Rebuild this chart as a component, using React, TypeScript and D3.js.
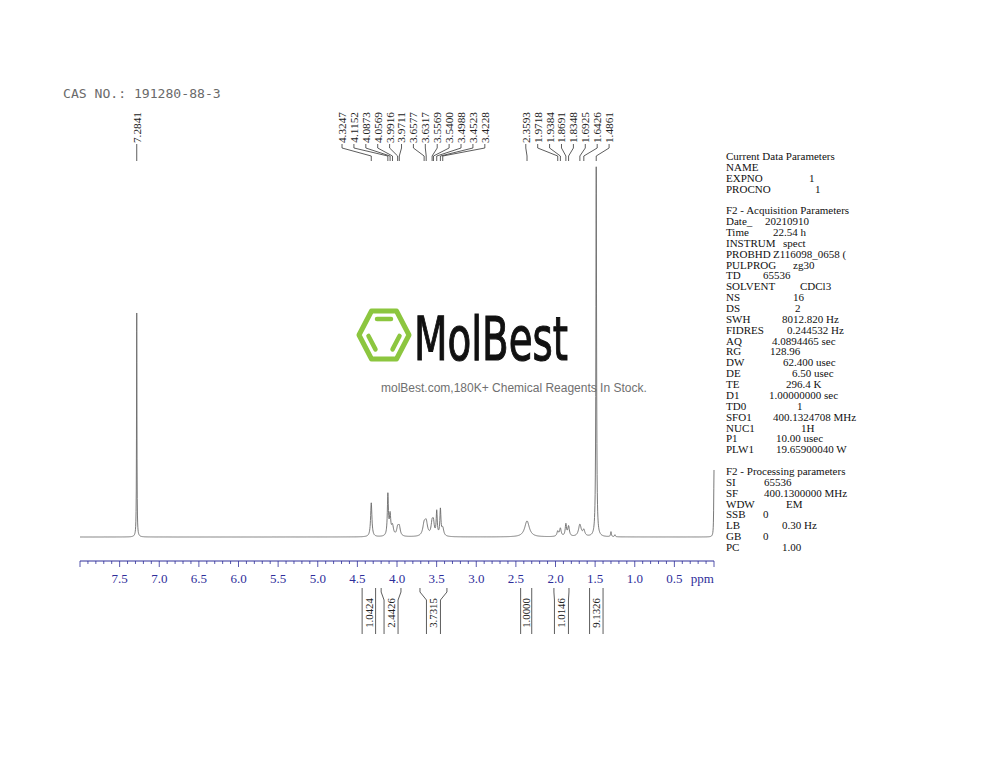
import React from "react";
import * as d3 from "d3";

// ---------------- data ----------------
const casText = "CAS NO.: 191280-88-3";

const peakLabels = [
  7.2841, 4.3247, 4.1152, 4.0873, 4.0569, 3.9916, 3.9711, 3.6577, 3.6317, 3.5569,
  3.54, 3.4988, 3.4523, 3.4228, 2.3593, 1.9718, 1.9384, 1.8691, 1.8348, 1.6925,
  1.6426, 1.4861,
];

// spectrum lines (shift ppm, height in px-units above baseline, half width ppm)
const peakShifts = [
  7.2841, 4.3247, 4.1152, 4.0873, 4.0569, 3.9916, 3.9711, 3.6577, 3.6317, 3.5569,
  3.54, 3.4988, 3.4523, 3.4228, 2.3593, 1.9718, 1.9384, 1.8691, 1.8348, 1.6925,
  1.6426, 1.4861, 1.3, 1.25, 0.0,
];
const peakHeights = [
  224, 34, 41, 20, 10, 8, 9, 11, 13, 13,
  11, 24, 26, 8, 16, 5, 8, 12, 10, 12,
  6, 370, 5, 2, 67,
];
const peakWidths = [
  0.003, 0.01, 0.008, 0.01, 0.015, 0.015, 0.015, 0.02, 0.02, 0.015,
  0.012, 0.008, 0.008, 0.015, 0.035, 0.012, 0.012, 0.01, 0.012, 0.02,
  0.015, 0.005, 0.006, 0.006, 0.004,
];

const axisLabels = [7.5, 7.0, 6.5, 6.0, 5.5, 5.0, 4.5, 4.0, 3.5, 3.0, 2.5, 2.0, 1.5, 1.0, 0.5];

const integralValues = ["1.0424", "2.4426", "3.7315", "1.0000", "1.0146", "9.1326"];
const integralStarts = [4.44, 4.2, 3.71, 2.44, 2.02, 1.57];
const integralEnds = [4.27, 3.95, 3.37, 2.3, 1.83, 1.4];

const paramNames = [
  "Current Data Parameters", "NAME", "EXPNO", "PROCNO", "",
  "F2 - Acquisition Parameters", "Date_", "Time", "INSTRUM", "PROBHD", "PULPROG", "TD",
  "SOLVENT", "NS", "DS", "SWH", "FIDRES", "AQ", "RG", "DW", "DE", "TE", "D1", "TD0",
  "SFO1", "NUC1", "P1", "PLW1", "",
  "F2 - Processing parameters", "SI", "SF", "WDW", "SSB", "LB", "GB", "PC",
];
const paramValues = [
  "", "", "1", "1", "",
  "", "20210910", "22.54 h", "spect", "Z116098_0658 (", "zg30", "65536",
  "CDCl3", "16", "2", "8012.820 Hz", "0.244532 Hz", "4.0894465 sec", "128.96", "62.400 usec", "6.50 usec", "296.4 K", "1.00000000 sec", "1",
  "400.1324708 MHz", "1H", "10.00 usec", "19.65900040 W", "",
  "", "65536", "400.1300000 MHz", "EM", "0", "0.30 Hz", "0", "1.00",
];
// layout: x of each value column entry
const paramValueX = [
  0, 0, 809, 815, 0,
  0, 765, 773, 783, 773, 793, 763,
  800, 793, 795, 782, 787, 772, 770, 783, 792, 786, 769, 797,
  773, 801, 776, 776, 0,
  0, 764, 764, 786, 763, 782, 763, 782,
];

const logoWord = "MolBest";
const tagline = "molBest.com,180K+ Chemical Reagents In Stock.";

// ---------------- component ----------------
export default function App() {
  const W = 1000;
  const H = 773;
  const x = d3.scaleLinear().domain([8.0, 0.0]).range([80, 714]);
  const y = d3.scaleLinear().domain([0, 100]).range([537, 437]);

  // spectrum sampling
  const grid: number[] = d3.range(0, 8.0001, 0.0025);
  const samples = Array.from(new Set(grid.concat(peakShifts.filter((p) => p >= 0 && p <= 8))))
    .sort((a, b) => b - a);
  const intensity = (p: number) => {
    let s = 0;
    for (let i = 0; i < peakShifts.length; i++) {
      const d = (p - peakShifts[i]) / peakWidths[i];
      s += peakHeights[i] / (1 + d * d);
    }
    return s;
  };
  const line = d3
    .line<number>()
    .x((p) => x(p))
    .y((p) => y(intensity(p)));
  const specPath = line(samples) || "";

  // label placement
  const spacing = 11.9;
  type G = { idx: number[]; center: number };
  const pxs = peakLabels.map((p) => x(p));
  let groups: G[] = pxs.map((px, i) => ({ idx: [i], center: px }));
  let merged = true;
  while (merged) {
    merged = false;
    for (let i = 0; i < groups.length - 1; i++) {
      const a = groups[i];
      const b = groups[i + 1];
      const aEnd = a.center + ((a.idx.length - 1) / 2) * spacing;
      const bStart = b.center - ((b.idx.length - 1) / 2) * spacing;
      if (bStart - aEnd < spacing) {
        const idx = a.idx.concat(b.idx);
        const center = d3.mean(idx, (k) => pxs[k]) as number;
        groups.splice(i, 2, { idx, center });
        merged = true;
        break;
      }
    }
  }
  const labelX: number[] = new Array(peakLabels.length);
  groups.forEach((g) => {
    g.idx.forEach((k, j) => {
      labelX[k] = g.center + (j - (g.idx.length - 1) / 2) * spacing;
    });
  });

  const labelTop = 112;
  const lead1 = 144;
  const lead2 = 148;
  const lead3 = 156;
  const lead4 = 161;

  // ticks
  const minorTicks = d3.range(0, 81).map((i) => 8 - i * 0.1);
  const axisColor = "#2e2e9a";
  const axisY = 561;

  // hexagon
  const hx = 384;
  const hy = 335;
  const hrx = 25;
  const hry = 24;
  const hexPts = d3.range(6).map((i) => {
    const a = (Math.PI / 3) * i;
    return [hx + hrx * Math.cos(a), hy + (hry / Math.sin(Math.PI / 3)) * Math.sin(a)];
  });
  const inner = (i: number, j: number, inset: number, shrink: number) => {
    const [x1, y1] = hexPts[i];
    const [x2, y2] = hexPts[j];
    const mx = (x1 + x2) / 2;
    const my = (y1 + y2) / 2;
    const dx = hx - mx;
    const dy = hy - my;
    const dl = Math.hypot(dx, dy);
    const ox = (dx / dl) * inset;
    const oy = (dy / dl) * inset;
    const ex = (x2 - x1) * shrink;
    const ey = (y2 - y1) * shrink;
    return { x1: x1 + ox + ex, y1: y1 + oy + ey, x2: x2 + ox - ex, y2: y2 + oy - ey };
  };
  const innerLines = [inner(4, 5, 8, 0.22), inner(2, 3, 8, 0.22), inner(0, 1, 8, 0.22)];

  const serif = "'Liberation Serif', 'DejaVu Serif', serif";

  return (
    <div style={{ position: "absolute", left: 0, top: 0 }}>
      <svg width={W} height={H} style={{ display: "block", background: "#fff" }}>
        <rect x={0} y={0} width={W} height={H} fill="#fff" />
        {/* CAS header */}
        <text x={63} y={98} fontFamily="'DejaVu Sans Mono', monospace" fontSize={13.1} fill="#6a6a6a">
          {casText}
        </text>

        {/* logo */}
        <polygon
          points={hexPts.map((p) => p.join(",")).join(" ")}
          fill="none"
          stroke="#8cc63f"
          strokeWidth={5}
          strokeLinejoin="round"
        />
        {innerLines.map((l, i) => (
          <line key={i} {...l} stroke="#8cc63f" strokeWidth={4.5} strokeLinecap="round" />
        ))}
        <text
          x={414}
          y={360}
          fontFamily="'DejaVu Sans', sans-serif"
          fontSize={60}
          textLength={154}
          lengthAdjust="spacingAndGlyphs"
          fill="#111"
          stroke="#111"
          strokeWidth={1.2}
        >
          {logoWord}
        </text>
        <text x={381} y={392} fontFamily="'Liberation Sans', Arial, sans-serif" fontSize={12} fill="#707070">
          {tagline}
        </text>

        {/* spectrum */}
        <path d={specPath} fill="none" stroke="#6a6a6a" strokeWidth={0.9} />

        {/* peak labels */}
        {peakLabels.map((p, i) => {
          const lx = labelX[i];
          const px = pxs[i];
          return (
            <g key={i}>
              <text
                transform={`translate(${lx},${labelTop}) rotate(-90)`}
                textAnchor="end"
                dy="0.35em"
                fontFamily={serif}
                fontSize={11.3}
                fill="#222"
              >
                {p.toFixed(4)}
              </text>
              <path
                d={`M${lx},${lead1}V${lead2}L${px},${lead3}V${lead4}`}
                fill="none"
                stroke="#333"
                strokeWidth={0.8}
              />
            </g>
          );
        })}

        {/* axis */}
        <line x1={x(8)} x2={x(0)} y1={axisY} y2={axisY} stroke={axisColor} strokeWidth={1} />
        {minorTicks.map((t, i) => {
          const major = Math.abs(t * 2 - Math.round(t * 2)) < 1e-6;
          return (
            <line
              key={i}
              x1={x(t)}
              x2={x(t)}
              y1={axisY}
              y2={axisY + (major ? 6 : 3)}
              stroke={axisColor}
              strokeWidth={0.8}
            />
          );
        })}
        {axisLabels.map((t, i) => (
          <text
            key={i}
            x={x(t)}
            y={583}
            textAnchor="middle"
            fontFamily={serif}
            fontSize={13}
            fill={axisColor}
          >
            {t.toFixed(1)}
          </text>
        ))}
        <text x={x(0.5) + 28} y={583} textAnchor="middle" fontFamily={serif} fontSize={13} fill={axisColor}>
          ppm
        </text>

        {/* integrals */}
        {integralValues.map((v, i) => {
          const a = x(integralStarts[i]);
          const b = x(integralEnds[i]);
          const c = (a + b) / 2;
          const bw = Math.max(11, Math.min(b - a, 14));
          const l = c - bw / 2;
          const r = c + bw / 2;
          const top = 588;
          const bend1 = 592;
          const bend2 = 600;
          const bot = 634;
          return (
            <g key={i}>
              <path d={`M${a},${top}V${bend1}L${l},${bend2}V${bot}`} fill="none" stroke="#333" strokeWidth={0.8} />
              <path d={`M${b},${top}V${bend1}L${r},${bend2}V${bot}`} fill="none" stroke="#333" strokeWidth={0.8} />
              <text
                transform={`translate(${c},${613}) rotate(-90)`}
                textAnchor="middle"
                dy="0.35em"
                fontFamily={serif}
                fontSize={10.8}
                fill="#222"
              >
                {v}
              </text>
            </g>
          );
        })}

        {/* parameters */}
        {paramNames.map((n, i) => {
          const yy = 160 + i * 10.86;
          return (
            <g key={i}>
              {n && (
                <text x={726} y={yy} fontFamily={serif} fontSize={11} fill="#111">
                  {n}
                </text>
              )}
              {paramValues[i] && (
                <text x={paramValueX[i]} y={yy} fontFamily={serif} fontSize={11} fill="#111">
                  {paramValues[i]}
                </text>
              )}
            </g>
          );
        })}
      </svg>
    </div>
  );
}
